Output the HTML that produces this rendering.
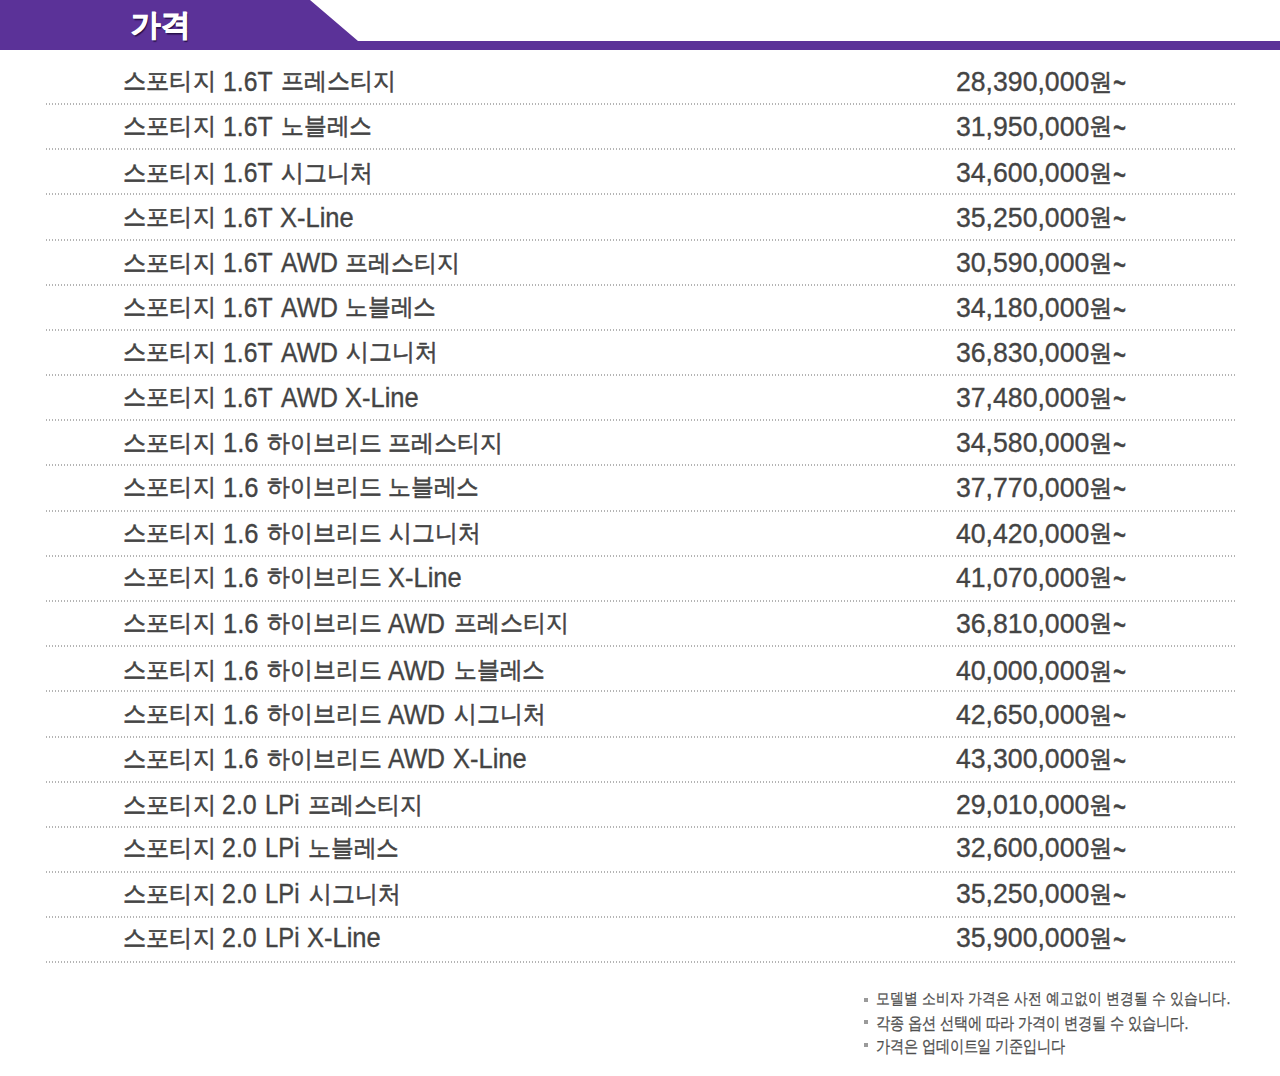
<!DOCTYPE html>
<html lang="ko">
<head>
<meta charset="utf-8">
<title>가격</title>
<style>
html,body{margin:0;padding:0;background:#fff;}
body{width:1280px;height:1076px;position:relative;overflow:hidden;font-family:"Liberation Sans",sans-serif;color:#444;}
span{position:absolute;white-space:nowrap;transform-origin:0 0;}
.l{font-size:27px;line-height:27px;-webkit-text-stroke:0.35px #444;}
.k{font-size:24px;line-height:24px;-webkit-text-stroke:0.55px #444;}
.n{font-size:15px;line-height:15px;color:#4f4f4f;-webkit-text-stroke:0.25px #4f4f4f;}
.t{font-size:30px;line-height:30px;font-weight:bold;color:#fff;-webkit-text-stroke:0.9px #fff;text-shadow:1px 1.5px 1px rgba(30,10,60,.85);}
.hdr{position:absolute;left:0;top:0;}
.dot{position:absolute;left:46px;width:1190px;height:2px;background:repeating-linear-gradient(90deg,#b4b4b4 0,#b4b4b4 1px,transparent 1px,transparent 3px);}
.bul{position:absolute;left:864px;width:4px;height:4px;background:#9a9a9a;}
</style>
</head>
<body>
<svg class="hdr" width="1280" height="50" viewBox="0 0 1280 50"><polygon points="0,0 310,0 358,41 1280,41 1280,50 0,50" fill="#5b3298"/></svg>
<span class="k" style="left:123.11px;top:69.10px;transform:scaleX(0.9657)">스포티지</span>
<span class="l" style="left:223.37px;top:68.70px;transform:scaleX(0.9165)">1.6T</span>
<span class="k" style="left:280.52px;top:69.10px;transform:scaleX(0.9581)">프레스티지</span>
<span class="l" style="left:955.67px;top:68.80px;transform:scaleX(0.9861)">28,390,000</span>
<span class="k" style="left:1089.30px;top:69.50px;transform:scaleX(0.9740)">원</span>
<span class="l" style="left:1112.96px;top:64.15px;transform:scale(0.8302,1.4000)">~</span>
<div class="dot" style="top:103px"></div>
<span class="k" style="left:123.11px;top:114.08px;transform:scaleX(0.9657)">스포티지</span>
<span class="l" style="left:223.37px;top:113.68px;transform:scaleX(0.9165)">1.6T</span>
<span class="k" style="left:280.54px;top:114.08px;transform:scaleX(0.9481)">노블레스</span>
<span class="l" style="left:955.67px;top:113.78px;transform:scaleX(0.9861)">31,950,000</span>
<span class="k" style="left:1089.30px;top:114.48px;transform:scaleX(0.9740)">원</span>
<span class="l" style="left:1112.96px;top:109.13px;transform:scale(0.8302,1.4000)">~</span>
<div class="dot" style="top:148px"></div>
<span class="k" style="left:123.11px;top:160.51px;transform:scaleX(0.9657)">스포티지</span>
<span class="l" style="left:223.37px;top:160.11px;transform:scaleX(0.9165)">1.6T</span>
<span class="k" style="left:281.25px;top:160.51px;transform:scaleX(0.9545)">시그니처</span>
<span class="l" style="left:955.67px;top:160.21px;transform:scaleX(0.9861)">34,600,000</span>
<span class="k" style="left:1089.30px;top:160.91px;transform:scaleX(0.9740)">원</span>
<span class="l" style="left:1112.96px;top:155.56px;transform:scale(0.8302,1.4000)">~</span>
<div class="dot" style="top:193px"></div>
<span class="k" style="left:123.11px;top:204.94px;transform:scaleX(0.9657)">스포티지</span>
<span class="l" style="left:223.37px;top:204.54px;transform:scaleX(0.9165)">1.6T</span>
<span class="l" style="left:279.79px;top:204.54px;transform:scaleX(0.9447)">X-Line</span>
<span class="l" style="left:955.67px;top:204.64px;transform:scaleX(0.9861)">35,250,000</span>
<span class="k" style="left:1089.30px;top:205.34px;transform:scaleX(0.9740)">원</span>
<span class="l" style="left:1112.96px;top:199.99px;transform:scale(0.8302,1.4000)">~</span>
<div class="dot" style="top:239px"></div>
<span class="k" style="left:123.11px;top:250.72px;transform:scaleX(0.9657)">스포티지</span>
<span class="l" style="left:223.37px;top:250.32px;transform:scaleX(0.9165)">1.6T</span>
<span class="l" style="left:280.60px;top:250.32px;transform:scaleX(0.9202)">AWD</span>
<span class="k" style="left:345.32px;top:250.72px;transform:scaleX(0.9581)">프레스티지</span>
<span class="l" style="left:955.67px;top:250.42px;transform:scaleX(0.9861)">30,590,000</span>
<span class="k" style="left:1089.30px;top:251.12px;transform:scaleX(0.9740)">원</span>
<span class="l" style="left:1112.96px;top:245.77px;transform:scale(0.8302,1.4000)">~</span>
<div class="dot" style="top:284px"></div>
<span class="k" style="left:123.11px;top:295.45px;transform:scaleX(0.9657)">스포티지</span>
<span class="l" style="left:223.37px;top:295.05px;transform:scaleX(0.9165)">1.6T</span>
<span class="l" style="left:280.60px;top:295.05px;transform:scaleX(0.9202)">AWD</span>
<span class="k" style="left:345.34px;top:295.45px;transform:scaleX(0.9481)">노블레스</span>
<span class="l" style="left:955.67px;top:295.15px;transform:scaleX(0.9861)">34,180,000</span>
<span class="k" style="left:1089.30px;top:295.85px;transform:scaleX(0.9740)">원</span>
<span class="l" style="left:1112.96px;top:290.50px;transform:scale(0.8302,1.4000)">~</span>
<div class="dot" style="top:329px"></div>
<span class="k" style="left:123.11px;top:340.48px;transform:scaleX(0.9657)">스포티지</span>
<span class="l" style="left:223.37px;top:340.08px;transform:scaleX(0.9165)">1.6T</span>
<span class="l" style="left:280.60px;top:340.08px;transform:scaleX(0.9202)">AWD</span>
<span class="k" style="left:346.05px;top:340.48px;transform:scaleX(0.9545)">시그니처</span>
<span class="l" style="left:955.67px;top:340.18px;transform:scaleX(0.9861)">36,830,000</span>
<span class="k" style="left:1089.30px;top:340.88px;transform:scaleX(0.9740)">원</span>
<span class="l" style="left:1112.96px;top:335.53px;transform:scale(0.8302,1.4000)">~</span>
<div class="dot" style="top:374px"></div>
<span class="k" style="left:123.11px;top:385.16px;transform:scaleX(0.9657)">스포티지</span>
<span class="l" style="left:223.37px;top:384.76px;transform:scaleX(0.9165)">1.6T</span>
<span class="l" style="left:280.60px;top:384.76px;transform:scaleX(0.9202)">AWD</span>
<span class="l" style="left:344.59px;top:384.76px;transform:scaleX(0.9447)">X-Line</span>
<span class="l" style="left:955.67px;top:384.86px;transform:scaleX(0.9861)">37,480,000</span>
<span class="k" style="left:1089.30px;top:385.56px;transform:scaleX(0.9740)">원</span>
<span class="l" style="left:1112.96px;top:380.21px;transform:scale(0.8302,1.4000)">~</span>
<div class="dot" style="top:419px"></div>
<span class="k" style="left:123.11px;top:430.69px;transform:scaleX(0.9657)">스포티지</span>
<span class="l" style="left:222.91px;top:430.29px;transform:scaleX(0.9460)">1.6</span>
<span class="k" style="left:266.75px;top:430.69px;transform:scaleX(0.9544)">하이브리드</span>
<span class="k" style="left:388.42px;top:430.69px;transform:scaleX(0.9581)">프레스티지</span>
<span class="l" style="left:955.67px;top:430.39px;transform:scaleX(0.9861)">34,580,000</span>
<span class="k" style="left:1089.30px;top:431.09px;transform:scaleX(0.9740)">원</span>
<span class="l" style="left:1112.96px;top:425.74px;transform:scale(0.8302,1.4000)">~</span>
<div class="dot" style="top:464px"></div>
<span class="k" style="left:123.11px;top:475.32px;transform:scaleX(0.9657)">스포티지</span>
<span class="l" style="left:222.91px;top:474.92px;transform:scaleX(0.9460)">1.6</span>
<span class="k" style="left:266.75px;top:475.32px;transform:scaleX(0.9544)">하이브리드</span>
<span class="k" style="left:388.44px;top:475.32px;transform:scaleX(0.9481)">노블레스</span>
<span class="l" style="left:955.67px;top:475.02px;transform:scaleX(0.9861)">37,770,000</span>
<span class="k" style="left:1089.30px;top:475.72px;transform:scaleX(0.9740)">원</span>
<span class="l" style="left:1112.96px;top:470.37px;transform:scale(0.8302,1.4000)">~</span>
<div class="dot" style="top:510px"></div>
<span class="k" style="left:123.11px;top:521.05px;transform:scaleX(0.9657)">스포티지</span>
<span class="l" style="left:222.91px;top:520.65px;transform:scaleX(0.9460)">1.6</span>
<span class="k" style="left:266.75px;top:521.05px;transform:scaleX(0.9544)">하이브리드</span>
<span class="k" style="left:389.15px;top:521.05px;transform:scaleX(0.9545)">시그니처</span>
<span class="l" style="left:955.67px;top:520.75px;transform:scaleX(0.9861)">40,420,000</span>
<span class="k" style="left:1089.30px;top:521.45px;transform:scaleX(0.9740)">원</span>
<span class="l" style="left:1112.96px;top:516.10px;transform:scale(0.8302,1.4000)">~</span>
<div class="dot" style="top:555px"></div>
<span class="k" style="left:123.11px;top:564.93px;transform:scaleX(0.9657)">스포티지</span>
<span class="l" style="left:222.91px;top:564.53px;transform:scaleX(0.9460)">1.6</span>
<span class="k" style="left:266.75px;top:564.93px;transform:scaleX(0.9544)">하이브리드</span>
<span class="l" style="left:387.69px;top:564.53px;transform:scaleX(0.9447)">X-Line</span>
<span class="l" style="left:955.67px;top:564.63px;transform:scaleX(0.9861)">41,070,000</span>
<span class="k" style="left:1089.30px;top:565.33px;transform:scaleX(0.9740)">원</span>
<span class="l" style="left:1112.96px;top:559.98px;transform:scale(0.8302,1.4000)">~</span>
<div class="dot" style="top:600px"></div>
<span class="k" style="left:123.11px;top:611.06px;transform:scaleX(0.9657)">스포티지</span>
<span class="l" style="left:222.91px;top:610.66px;transform:scaleX(0.9460)">1.6</span>
<span class="k" style="left:266.75px;top:611.06px;transform:scaleX(0.9544)">하이브리드</span>
<span class="l" style="left:388.40px;top:610.66px;transform:scaleX(0.9202)">AWD</span>
<span class="k" style="left:453.52px;top:611.06px;transform:scaleX(0.9581)">프레스티지</span>
<span class="l" style="left:955.67px;top:610.76px;transform:scaleX(0.9861)">36,810,000</span>
<span class="k" style="left:1089.30px;top:611.46px;transform:scaleX(0.9740)">원</span>
<span class="l" style="left:1112.96px;top:606.11px;transform:scale(0.8302,1.4000)">~</span>
<div class="dot" style="top:645px"></div>
<span class="k" style="left:123.11px;top:658.19px;transform:scaleX(0.9657)">스포티지</span>
<span class="l" style="left:222.91px;top:657.79px;transform:scaleX(0.9460)">1.6</span>
<span class="k" style="left:266.75px;top:658.19px;transform:scaleX(0.9544)">하이브리드</span>
<span class="l" style="left:388.40px;top:657.79px;transform:scaleX(0.9202)">AWD</span>
<span class="k" style="left:453.54px;top:658.19px;transform:scaleX(0.9481)">노블레스</span>
<span class="l" style="left:955.67px;top:657.89px;transform:scaleX(0.9861)">40,000,000</span>
<span class="k" style="left:1089.30px;top:658.59px;transform:scaleX(0.9740)">원</span>
<span class="l" style="left:1112.96px;top:653.24px;transform:scale(0.8302,1.4000)">~</span>
<div class="dot" style="top:690px"></div>
<span class="k" style="left:123.11px;top:702.37px;transform:scaleX(0.9657)">스포티지</span>
<span class="l" style="left:222.91px;top:701.97px;transform:scaleX(0.9460)">1.6</span>
<span class="k" style="left:266.75px;top:702.37px;transform:scaleX(0.9544)">하이브리드</span>
<span class="l" style="left:388.40px;top:701.97px;transform:scaleX(0.9202)">AWD</span>
<span class="k" style="left:454.25px;top:702.37px;transform:scaleX(0.9545)">시그니처</span>
<span class="l" style="left:955.67px;top:702.07px;transform:scaleX(0.9861)">42,650,000</span>
<span class="k" style="left:1089.30px;top:702.77px;transform:scaleX(0.9740)">원</span>
<span class="l" style="left:1112.96px;top:697.42px;transform:scale(0.8302,1.4000)">~</span>
<div class="dot" style="top:736px"></div>
<span class="k" style="left:123.11px;top:746.60px;transform:scaleX(0.9657)">스포티지</span>
<span class="l" style="left:222.91px;top:746.20px;transform:scaleX(0.9460)">1.6</span>
<span class="k" style="left:266.75px;top:746.60px;transform:scaleX(0.9544)">하이브리드</span>
<span class="l" style="left:388.40px;top:746.20px;transform:scaleX(0.9202)">AWD</span>
<span class="l" style="left:452.79px;top:746.20px;transform:scaleX(0.9447)">X-Line</span>
<span class="l" style="left:955.67px;top:746.30px;transform:scaleX(0.9861)">43,300,000</span>
<span class="k" style="left:1089.30px;top:747.00px;transform:scaleX(0.9740)">원</span>
<span class="l" style="left:1112.96px;top:741.65px;transform:scale(0.8302,1.4000)">~</span>
<div class="dot" style="top:781px"></div>
<span class="k" style="left:123.11px;top:792.78px;transform:scaleX(0.9657)">스포티지</span>
<span class="l" style="left:222.44px;top:792.38px;transform:scaleX(0.9248)">2.0</span>
<span class="l" style="left:265.41px;top:792.38px;transform:scaleX(0.8829)">LPi</span>
<span class="k" style="left:307.82px;top:792.78px;transform:scaleX(0.9581)">프레스티지</span>
<span class="l" style="left:955.67px;top:792.48px;transform:scaleX(0.9861)">29,010,000</span>
<span class="k" style="left:1089.30px;top:793.18px;transform:scaleX(0.9740)">원</span>
<span class="l" style="left:1112.96px;top:787.83px;transform:scale(0.8302,1.4000)">~</span>
<div class="dot" style="top:826px"></div>
<span class="k" style="left:123.11px;top:835.66px;transform:scaleX(0.9657)">스포티지</span>
<span class="l" style="left:222.44px;top:835.26px;transform:scaleX(0.9248)">2.0</span>
<span class="l" style="left:265.41px;top:835.26px;transform:scaleX(0.8829)">LPi</span>
<span class="k" style="left:307.84px;top:835.66px;transform:scaleX(0.9481)">노블레스</span>
<span class="l" style="left:955.67px;top:835.36px;transform:scaleX(0.9861)">32,600,000</span>
<span class="k" style="left:1089.30px;top:836.06px;transform:scaleX(0.9740)">원</span>
<span class="l" style="left:1112.96px;top:830.71px;transform:scale(0.8302,1.4000)">~</span>
<div class="dot" style="top:871px"></div>
<span class="k" style="left:123.11px;top:881.64px;transform:scaleX(0.9657)">스포티지</span>
<span class="l" style="left:222.44px;top:881.24px;transform:scaleX(0.9248)">2.0</span>
<span class="l" style="left:265.41px;top:881.24px;transform:scaleX(0.8829)">LPi</span>
<span class="k" style="left:308.55px;top:881.64px;transform:scaleX(0.9545)">시그니처</span>
<span class="l" style="left:955.67px;top:881.34px;transform:scaleX(0.9861)">35,250,000</span>
<span class="k" style="left:1089.30px;top:882.04px;transform:scaleX(0.9740)">원</span>
<span class="l" style="left:1112.96px;top:876.69px;transform:scale(0.8302,1.4000)">~</span>
<div class="dot" style="top:916px"></div>
<span class="k" style="left:123.11px;top:925.72px;transform:scaleX(0.9657)">스포티지</span>
<span class="l" style="left:222.44px;top:925.32px;transform:scaleX(0.9248)">2.0</span>
<span class="l" style="left:265.41px;top:925.32px;transform:scaleX(0.8829)">LPi</span>
<span class="l" style="left:307.09px;top:925.32px;transform:scaleX(0.9447)">X-Line</span>
<span class="l" style="left:955.67px;top:925.42px;transform:scaleX(0.9861)">35,900,000</span>
<span class="k" style="left:1089.30px;top:926.12px;transform:scaleX(0.9740)">원</span>
<span class="l" style="left:1112.96px;top:920.77px;transform:scale(0.8302,1.4000)">~</span>
<div class="dot" style="top:961px"></div>
<span class="n" style="left:876.26px;top:989.79px;transform:scale(0.9367,1.0837)">모델별 소비자 가격은 사전 예고없이 변경될 수 있습니다.</span>
<div class="bul" style="top:998px"></div>
<span class="n" style="left:876.03px;top:1013.61px;transform:scale(0.9373,1.1204)">각종 옵션 선택에 따라 가격이 변경될 수 있습니다.</span>
<div class="bul" style="top:1020px"></div>
<span class="n" style="left:876.27px;top:1036.66px;transform:scale(0.9297,1.1163)">가격은 업데이트일 기준입니다</span>
<div class="bul" style="top:1043px"></div>
<span class="t" style="left:131.21px;top:9.90px;transform:scale(0.9891,1.0036)">가격</span>
<script>
(function(){
var E=[[96, 0.9657, 1.0], [120, 0.9581, 1.0], [24, 0.974, 1.0], [96, 0.9657, 1.0], [96, 0.9481, 1.0], [24, 0.974, 1.0], [96, 0.9657, 1.0], [96, 0.9545, 1.0], [24, 0.974, 1.0], [96, 0.9657, 1.0], [24, 0.974, 1.0], [96, 0.9657, 1.0], [120, 0.9581, 1.0], [24, 0.974, 1.0], [96, 0.9657, 1.0], [96, 0.9481, 1.0], [24, 0.974, 1.0], [96, 0.9657, 1.0], [96, 0.9545, 1.0], [24, 0.974, 1.0], [96, 0.9657, 1.0], [24, 0.974, 1.0], [96, 0.9657, 1.0], [120, 0.9544, 1.0], [120, 0.9581, 1.0], [24, 0.974, 1.0], [96, 0.9657, 1.0], [120, 0.9544, 1.0], [96, 0.9481, 1.0], [24, 0.974, 1.0], [96, 0.9657, 1.0], [120, 0.9544, 1.0], [96, 0.9545, 1.0], [24, 0.974, 1.0], [96, 0.9657, 1.0], [120, 0.9544, 1.0], [24, 0.974, 1.0], [96, 0.9657, 1.0], [120, 0.9544, 1.0], [120, 0.9581, 1.0], [24, 0.974, 1.0], [96, 0.9657, 1.0], [120, 0.9544, 1.0], [96, 0.9481, 1.0], [24, 0.974, 1.0], [96, 0.9657, 1.0], [120, 0.9544, 1.0], [96, 0.9545, 1.0], [24, 0.974, 1.0], [96, 0.9657, 1.0], [120, 0.9544, 1.0], [24, 0.974, 1.0], [96, 0.9657, 1.0], [120, 0.9581, 1.0], [24, 0.974, 1.0], [96, 0.9657, 1.0], [96, 0.9481, 1.0], [24, 0.974, 1.0], [96, 0.9657, 1.0], [96, 0.9545, 1.0], [24, 0.974, 1.0], [96, 0.9657, 1.0], [24, 0.974, 1.0], [378.34, 0.9367, 1.0837], [333.34, 0.9373, 1.1204], [203.34, 0.9297, 1.1163], [60, 0.9891, 1.0036]];
var s=document.querySelectorAll('.k,.n,.t');
for(var i=0;i<s.length&&i<E.length;i++){
  var el=s[i], e=E[i], w=el.offsetWidth;
  if(w>0&&Math.abs(w-e[0])/e[0]>0.03){
    el.style.transform='scale('+(e[1]*e[0]/w)+','+e[2]+')';
  }
}
})();
</script>
</body>
</html>
